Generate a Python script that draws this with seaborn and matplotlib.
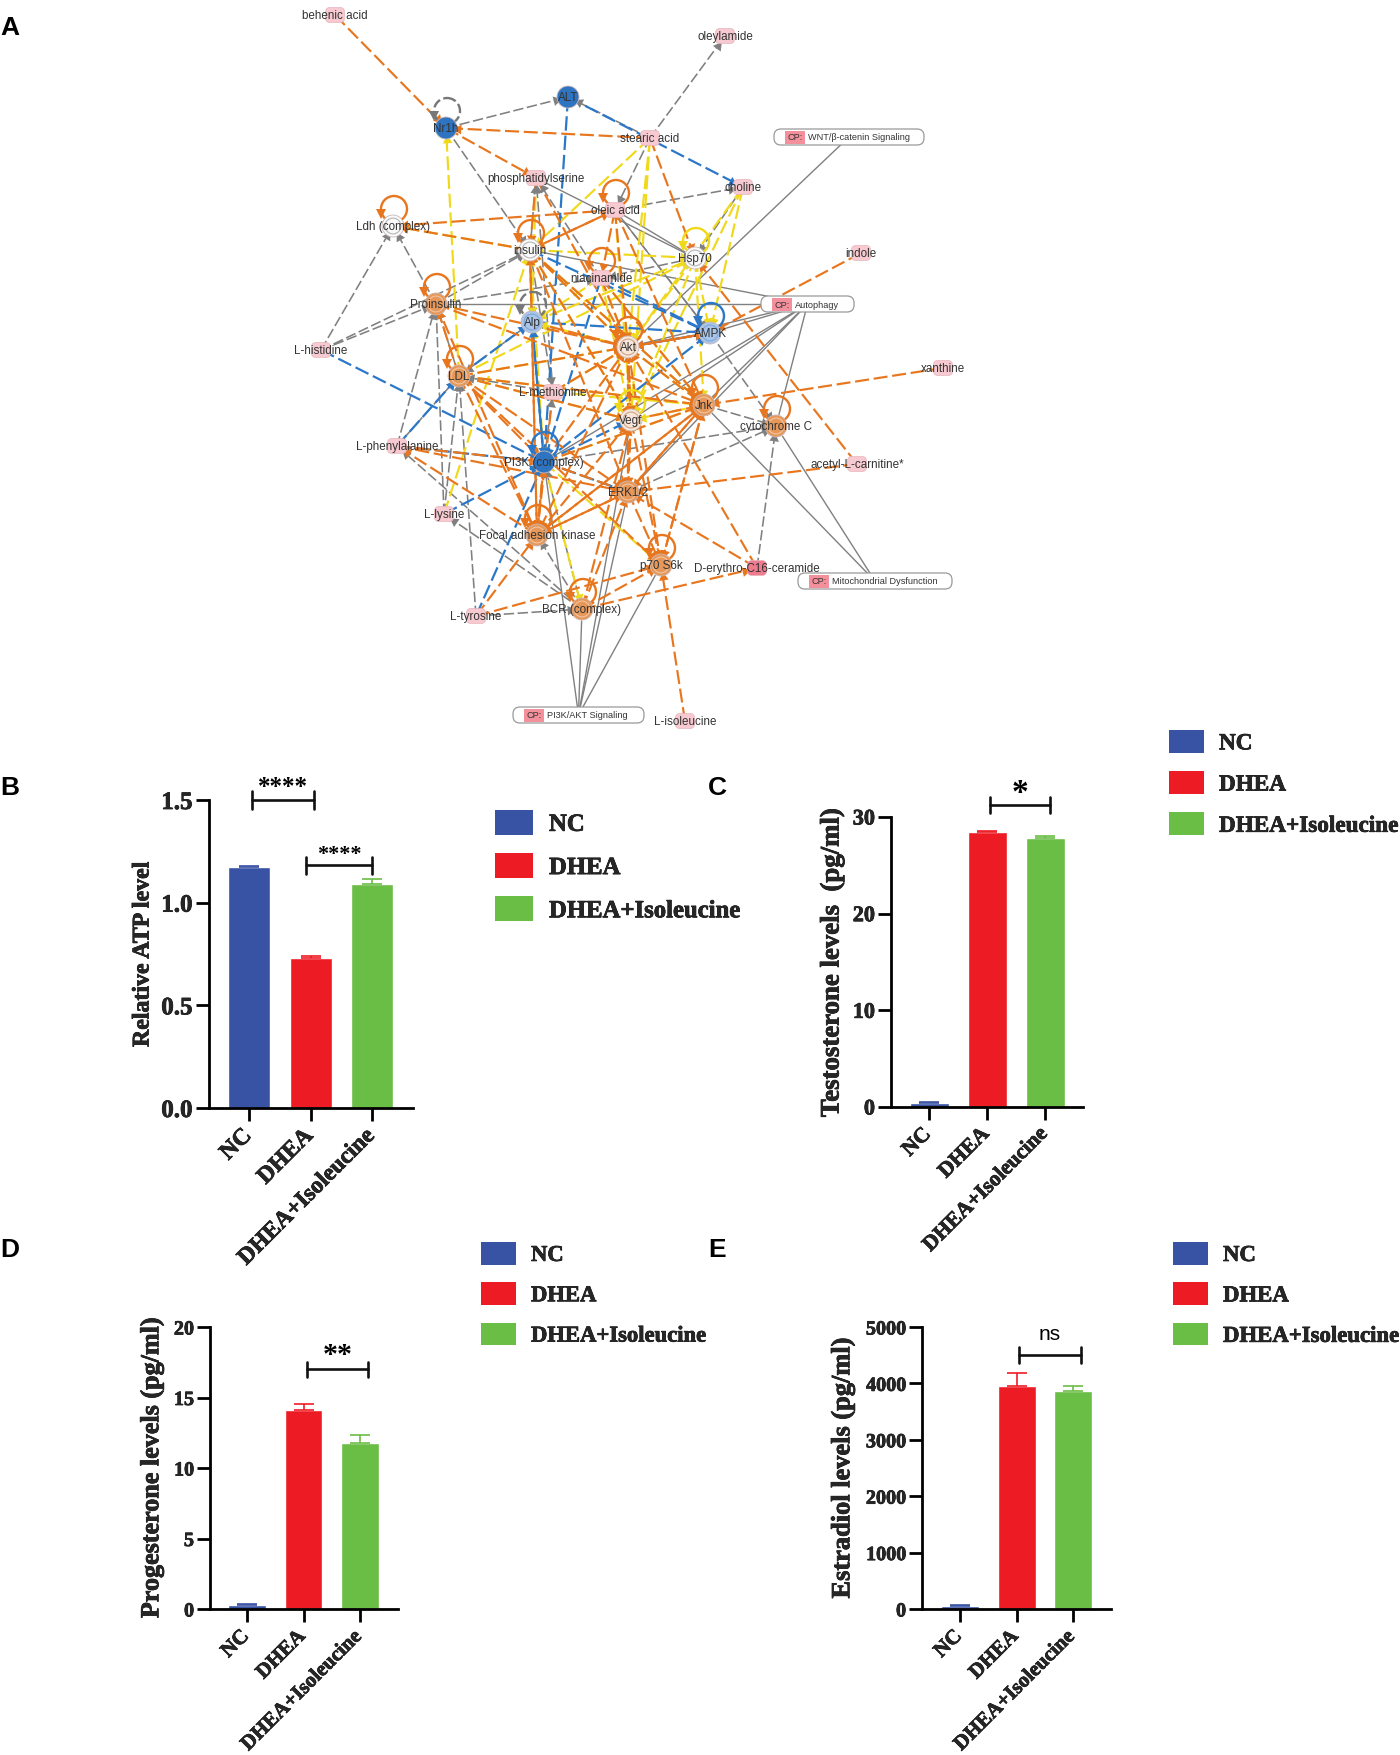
"""Isoleucine figure: pathway network (A) and hormone / ATP bar panels (B-E)."""
import math

import matplotlib
matplotlib.use('Agg')
import matplotlib.pyplot as plt
import matplotlib.patheffects as pe
from matplotlib.font_manager import FontProperties
from matplotlib.patches import Circle, FancyBboxPatch, Patch, Rectangle
from matplotlib.transforms import ScaledTranslation
import pandas as pd
import seaborn as sns

W, H = 1400, 1756

# ---- bar panels ----
groups = ['NC', 'DHEA', 'DHEA+Isoleucine']
colors = ['#3953a4', '#ed1c24', '#6abd45']

atp_values = [1.175, 0.73, 1.09]
atp_errors = [0.005, 0.01, 0.025]
atp_ticks = [0.0, 0.5, 1.0, 1.5]
atp_ticklabels = ['0.0', '0.5', '1.0', '1.5']

testosterone_values = [0.42, 28.4, 27.8]
testosterone_errors = [0.05, 0.12, 0.25]
testosterone_ticks = [0, 10, 20, 30]

progesterone_values = [0.3, 14.1, 11.75]
progesterone_errors = [0.04, 0.45, 0.6]
progesterone_ticks = [0, 5, 10, 15, 20]

estradiol_values = [60, 3960, 3860]
estradiol_errors = [10, 220, 90]
estradiol_ticks = [0, 1000, 2000, 3000, 4000, 5000]

# ---- network nodes ----
node_ids = ['beh', 'oley', 'nr1h', 'alt', 'stea', 'phos', 'chol', 'olei', 'ldh', 'ins', 'hsp',
            'ind', 'nia', 'pro', 'alp', 'ampk', 'akt', 'his', 'xan', 'ldl', 'met', 'jnk', 'vegf',
            'cyt', 'phe', 'pi3k', 'acet', 'erk', 'lys', 'fak', 'p70', 'cer', 'bcr', 'tyr', 'ile']
node_labels = ['behenic acid', 'oleylamide', 'Nr1h', 'ALT', 'stearic acid', 'phosphatidylserine',
               'choline', 'oleic acid', 'Ldh (complex)', 'insulin', 'Hsp70', 'indole', 'niacinamide',
               'Proinsulin', 'Alp', 'AMPK', 'Akt', 'L-histidine', 'xanthine', 'LDL', 'L-methionine',
               'Jnk', 'Vegf', 'cytochrome C', 'L-phenylalanine', 'PI3K (complex)', 'acetyl-L-carnitine*',
               'ERK1/2', 'L-lysine', 'Focal adhesion kinase', 'p70 S6k', 'D-erythro-C16-ceramide',
               'BCR (complex)', 'L-tyrosine', 'L-isoleucine']
node_x = [335, 725, 446, 568, 650, 536, 743, 615, 393, 530, 695, 861, 601, 436, 532, 710, 628, 321,
          943, 459, 553, 704, 631, 776, 397, 544, 857, 628, 444, 537, 661, 757, 582, 476, 685]
node_y = [16, 37, 129, 98, 139, 179, 188, 211, 227, 251, 259, 254, 279, 305, 323, 334, 348, 351,
          369, 377, 393, 406, 421, 427, 447, 463, 465, 493, 515, 536, 566, 569, 610, 617, 722]
node_kind = ['meta', 'meta', 'down', 'down', 'meta', 'meta', 'meta', 'meta', 'none', 'none', 'none',
             'meta', 'meta', 'up', 'weak', 'weak', 'pale', 'meta', 'meta', 'up', 'meta', 'up', 'pale',
             'up', 'meta', 'down', 'meta', 'up', 'meta', 'up', 'up', 'strong', 'up', 'meta', 'meta']

cp_labels = ['WNT/β-catenin Signaling', 'Autophagy', 'Mitochondrial Dysfunction', 'PI3K/AKT Signaling']
cp_ids = ['wnt', 'auto', 'mito', 'pak']
cp_left = [774, 761, 798, 513]
cp_right = [924, 854, 952, 644]
cp_y = [138, 305, 582, 716]

# ---- network edges ----
orange_edges = [
    ('stea', 'nr1h'), ('beh', 'nr1h'), ('nr1h', 'phos'), ('olei', 'ldh'), ('ins', 'ldh'), ('olei', 'ins'),
    ('ins', 'olei'), ('stea', 'hsp'), ('phos', 'ins'), ('phos', 'akt'), ('olei', 'nia'), ('olei', 'akt'),
    ('olei', 'jnk'), ('ins', 'akt'), ('ins', 'vegf'), ('ins', 'erk'), ('ins', 'jnk'), ('nia', 'akt'),
    ('nia', 'jnk'), ('pro', 'akt'), ('fak', 'ins'), ('ldl', 'akt'), ('ldl', 'jnk'), ('ldl', 'vegf'),
    ('ldl', 'erk'), ('phe', 'pi3k'), ('phe', 'erk'), ('fak', 'phe'), ('met', 'akt'), ('ind', 'ampk'),
    ('xan', 'jnk'), ('acet', 'erk'), ('acet', 'hsp'), ('cer', 'erk'), ('cer', 'akt'), ('bcr', 'erk'),
    ('bcr', 'vegf'), ('bcr', 'p70'), ('bcr', 'cer'), ('tyr', 'p70'), ('tyr', 'fak'), ('ile', 'p70'),
    ('erk', 'fak'), ('erk', 'p70'), ('erk', 'jnk'), ('erk', 'akt'), ('vegf', 'erk'), ('vegf', 'akt'),
    ('vegf', 'jnk'), ('akt', 'erk'), ('akt', 'jnk'), ('akt', 'vegf'), ('akt', 'p70'), ('akt', 'fak'),
    ('jnk', 'erk'), ('jnk', 'p70'), ('jnk', 'fak'), ('p70', 'jnk'), ('pi3k', 'erk'), ('pi3k', 'akt'),
    ('pi3k', 'fak'), ('pi3k', 'jnk'), ('ampk', 'akt'), ('akt', 'ampk'), ('alp', 'akt'), ('fak', 'erk'),
    ('fak', 'vegf'), ('fak', 'pi3k'), ('fak', 'jnk'), ('ins', 'fak'), ('pro', 'fak'), ('ldl', 'fak'),
    ('ldl', 'pro'), ('met', 'fak'), ('ldl', 'pi3k'), ('ldl', 'p70'), ('vegf', 'p70'), ('pro', 'jnk'),
]
yellow_edges = [
    ('ldl', 'nr1h'), ('stea', 'ins'), ('ins', 'ldh'), ('chol', 'akt'), ('chol', 'ampk'), ('stea', 'akt'),
    ('hsp', 'akt'), ('hsp', 'ampk'), ('hsp', 'jnk'), ('ins', 'akt'), ('ins', 'jnk'), ('ins', 'hsp'),
    ('nia', 'vegf'), ('phos', 'alp'), ('ldl', 'vegf'), ('lys', 'ins'), ('pi3k', 'p70'), ('pi3k', 'fak'),
    ('pi3k', 'bcr'), ('akt', 'alp'), ('nia', 'alp'), ('jnk', 'vegf'), ('vegf', 'akt'), ('met', 'akt'),
    ('met', 'jnk'), ('ldl', 'jnk'), ('ins', 'pi3k'), ('akt', 'jnk'), ('ldl', 'akt'), ('pi3k', 'jnk'),
    ('hsp', 'vegf'), ('chol', 'vegf'), ('stea', 'vegf'), ('ins', 'vegf'), ('nia', 'akt'), ('nia', 'jnk'),
    ('ldl', 'hsp'), ('alp', 'hsp'), ('alp', 'ins'), ('olei', 'vegf'),
]
blue_edges = [
    ('alt', 'chol'), ('alt', 'pi3k'), ('his', 'pi3k'), ('phe', 'pi3k'), ('lys', 'pi3k'), ('tyr', 'pi3k'),
    ('alp', 'pi3k'), ('pi3k', 'alp'), ('ldl', 'alp'), ('alp', 'ampk'), ('akt', 'ampk'), ('nia', 'ampk'),
    ('pi3k', 'ampk'), ('pi3k', 'erk'), ('pi3k', 'vegf'), ('phe', 'ldl'), ('ampk', 'akt'), ('ins', 'ampk'),
    ('nia', 'pi3k'),
]
gray_edges = [
    ('nr1h', 'alt'), ('nr1h', 'ins'), ('stea', 'alt'), ('stea', 'oley'), ('stea', 'olei'), ('olei', 'chol'),
    ('his', 'ldh'), ('his', 'pro'), ('his', 'ins'), ('pro', 'ldh'), ('pro', 'ins'), ('ins', 'phos'),
    ('nia', 'phos'), ('hsp', 'nia'), ('chol', 'hsp'), ('phe', 'pro'), ('lys', 'pro'), ('lys', 'ldl'),
    ('tyr', 'ldl'), ('phe', 'ldl'), ('tyr', 'bcr'), ('bcr', 'lys'), ('bcr', 'phe'), ('met', 'ldl'),
    ('met', 'phos'), ('pi3k', 'cyt'), ('erk', 'cyt'), ('cer', 'cyt'), ('jnk', 'cyt'), ('ampk', 'cyt'),
    ('ldl', 'pro'), ('ins', 'met'), ('pi3k', 'met'), ('bcr', 'fak'), ('bcr', 'pi3k'), ('alp', 'ldl'),
    ('pro', 'nia'), ('olei', 'ampk'), ('ins', 'alp'),
]
solid_edges = [
    ('wnt', 'akt'), ('auto', 'pro'), ('auto', 'ins'), ('auto', 'ampk'), ('auto', 'akt'), ('auto', 'jnk'),
    ('auto', 'erk'), ('auto', 'pi3k'), ('auto', 'vegf'), ('auto', 'cyt'), ('mito', 'jnk'), ('mito', 'cyt'),
    ('pak', 'pi3k'), ('pak', 'erk'), ('pak', 'vegf'), ('pak', 'bcr'), ('pak', 'p70'), ('phos', 'hsp'),
    ('olei', 'hsp'), ('olei', 'ampk'),
]
self_loops = {
    'nr1h': '#777777', 'ldh': '#e8761e', 'ins': '#e8761e', 'pro': '#e8761e', 'ldl': '#e8761e',
    'akt': '#e8761e', 'hsp': '#f0d81a', 'nia': '#e8761e', 'olei': '#e8761e', 'ampk': '#2b78c8',
    'jnk': '#e8761e', 'vegf': '#f0d81a', 'cyt': '#e8761e', 'pi3k': '#2b78c8', 'fak': '#e8761e',
    'p70': '#e8761e', 'bcr': '#e8761e', 'alp': '#777777',
}

kind_palette = {'down': '#2f74c0', 'weak': '#a9c6ea', 'none': '#fafafa', 'pale': '#f9e6d8', 'up': '#e6985a'}
ring_colors = {'none': '#b5b5b5', 'pale': '#c9a58a', 'up': '#f3c49e', 'weak': '#7fa6d8'}
meta_colors = {'meta': '#f7c9d0', 'strong': '#ee7c8e'}

sns.set_style('ticks')
plt.rcParams['font.family'] = ['Liberation Serif', 'DejaVu Serif']
plt.rcParams['axes.unicode_minus'] = False

heavy = [pe.withStroke(linewidth=0.5, foreground='black')]

fig = plt.figure(figsize=(W / 100, H / 100), dpi=100, facecolor='white')
canvas = fig.add_axes([0, 0, 1, 1])


def draw_edges(edges, color, lw, dashed=True, head=True):
    for src, dst in edges:
        x0, y0 = positions[src]
        x1, y1 = positions[dst]
        dist = math.hypot(x1 - x0, y1 - y0)
        stop = 12 if dst in node_ids else 0
        xe = x1 - (x1 - x0) * stop / dist
        ye = y1 - (y1 - y0) * stop / dist
        canvas.plot([x0, xe], [y0, ye], color=color, lw=lw, zorder=2,
                    ls=(0, (6.5, 2.2)) if dashed else '-')
        if head:
            angle = math.degrees(math.atan2(-(y1 - y0), x1 - x0)) - 90
            canvas.plot([xe], [ye], marker=(3, 0, angle), ms=8, color=color, mew=0, zorder=3)


positions = {n: (x, y) for n, x, y in zip(node_ids, node_x, node_y)}
for n, left, right, y in zip(cp_ids, cp_left, cp_right, cp_y):
    positions[n] = ((left + right) / 2, y)

draw_edges(gray_edges, '#808080', 1.15)
draw_edges(solid_edges, '#808080', 1.0, dashed=False, head=False)
draw_edges(yellow_edges, '#f0d81a', 1.55)
draw_edges(blue_edges, '#2b78c8', 1.6)
draw_edges(orange_edges, '#e8761e', 1.55)

for n, c in self_loops.items():
    x, y = positions[n]
    canvas.add_patch(Circle((x + 1, y - 17), 13, fill=False, ec=c, lw=1.7, zorder=3,
                            ls=(0, (4, 1.5)) if c == '#777777' else '-'))
    canvas.plot([x - 12], [y - 12], marker='v', ms=7, color=c, mew=0, zorder=3)

nodes = pd.DataFrame({'x': node_x, 'y': node_y, 'kind': node_kind})
circles = nodes[~nodes['kind'].isin(meta_colors)]
sns.scatterplot(data=circles, x='x', y='y', hue='kind', palette=kind_palette, s=250,
                edgecolor='#c9b8b8', linewidth=0.6, legend=False, ax=canvas, zorder=4)
for kind, ring in ring_colors.items():
    sns.scatterplot(data=nodes[nodes['kind'] == kind], x='x', y='y', s=130, facecolor='none',
                    edgecolor=ring, linewidth=0.8, legend=False, ax=canvas, zorder=5)
for x, y, kind in zip(node_x, node_y, node_kind):
    if kind in meta_colors:
        canvas.add_patch(FancyBboxPatch((x - 5, y - 3), 10, 6, boxstyle='round,pad=4.5',
                                        fc=meta_colors[kind], ec='#e8b4bc', lw=0.5, zorder=4))
canvas.set_xlim(0, W)
canvas.set_ylim(H, 0)
canvas.axis('off')

for label, x, y in zip(node_labels, node_x, node_y):
    canvas.text(x, y, label, ha='center', va='center', fontsize=8.4, color='#333333',
                family='Liberation Sans', zorder=6)

for label, left, right, y in zip(cp_labels, cp_left, cp_right, cp_y):
    canvas.add_patch(FancyBboxPatch((left + 7, y - 1), right - left - 14, 2, boxstyle='round,pad=7',
                                    fc='white', ec='#9a9a9a', lw=0.9, zorder=5))
    canvas.add_patch(Rectangle((left + 11, y - 6), 20, 13, fc='#f3909c', ec='none', zorder=6))
    canvas.text(left + 21, y, 'CP:', ha='center', va='center', fontsize=6.6, color='#333333',
                family='Liberation Sans', zorder=7)
    canvas.text(left + 34, y, label, ha='left', va='center', fontsize=6.6, color='#333333',
                family='Liberation Sans', zorder=7)

for letter, x, y in [('A', 0, 28), ('B', 0, 788), ('C', 708, 788), ('D', 0, 1250), ('E', 708, 1250)]:
    canvas.text(x, y, letter, ha='left', va='center', fontsize=19, fontweight='bold',
                family='Liberation Sans', color='black')


def bar_panel(box, values, errors, ticks, ticklabels, ylabel, label_xy, sizes, xticks_px, bar_px, legend_box):
    """box = (left, top, right, bottom) in image pixels; top is the last y tick."""
    left, top, right, bottom = box
    ax = fig.add_axes([left / W, 1 - bottom / H, (right - left) / W, (bottom - top) / H])
    ax.patch.set_alpha(0)
    sns.barplot(x=groups, y=values, hue=groups, palette=colors, order=groups, hue_order=groups,
                width=bar_px / (xticks_px[1] - xticks_px[0]), saturation=1, legend=False, ax=ax)
    step = xticks_px[1] - xticks_px[0]
    ax.set_xlim((left - xticks_px[0]) / step, (right - xticks_px[0]) / step)
    ax.set_ylim(ticks[0], ticks[-1])
    for i, (val, err, col) in enumerate(zip(values, errors, colors)):
        ax.errorbar(i, val, yerr=[[0], [err]], color=col, capsize=7, elinewidth=1.2, capthick=1.2)

    tick_size, x_size, y_size, legend_size = sizes
    sns.despine(ax=ax)
    for side in ('left', 'bottom'):
        ax.spines[side].set_linewidth(2)
        ax.spines[side].set_color('black')
    ax.set_yticks(ticks)
    ax.set_yticklabels(ticklabels, fontsize=tick_size, fontweight='bold', path_effects=heavy)
    ax.set_xticks(range(3))
    ax.set_xticklabels(groups, fontsize=x_size, fontweight='bold', rotation=45, ha='right',
                       rotation_mode='anchor', path_effects=heavy)
    ax.tick_params(axis='both', length=9.5, width=2, color='black', pad=2)
    ax.tick_params(axis='x', pad=3)
    shift = ScaledTranslation(-8 / 100, 0, fig.dpi_scale_trans)
    for tl in ax.get_xticklabels():
        tl.set_transform(tl.get_transform() + shift)
    ax.set_xlabel('')
    ax.set_ylabel(ylabel, fontsize=y_size, fontweight='bold', va='center', path_effects=heavy)
    ax.yaxis.set_label_coords((label_xy[0] - left) / (right - left), (bottom - label_xy[1]) / (bottom - top))

    lx, ly, lw, lh, pitch, text_x = legend_box
    fs_px = legend_size / 0.72
    hh = (lh / fs_px - 0.245) / 0.65
    handles = [Patch(facecolor=c, edgecolor='none', label=g) for c, g in zip(colors, groups)]
    leg = ax.legend(handles=handles, loc='upper left', bbox_to_anchor=(lx / W, 1 - ly / H),
                    bbox_transform=fig.transFigure, frameon=False, borderpad=0, borderaxespad=0,
                    prop=FontProperties(family='Liberation Serif', weight='bold', size=legend_size),
                    handlelength=lw / fs_px, handleheight=hh, handletextpad=(text_x - lx - lw) / fs_px,
                    labelspacing=(pitch + 3) / fs_px - hh)
    for t in leg.get_texts():
        t.set_path_effects(heavy)
    return ax


def bracket(x0, x1, y, half, text, text_y, size, family='Liberation Serif', weight='bold'):
    canvas.plot([x0, x1], [y, y], color='#111111', lw=1.9, zorder=8)
    for x in (x0, x1):
        canvas.plot([x, x], [y - half, y + half], color='#111111', lw=1.9, zorder=8)
    canvas.text((x0 + x1) / 2, text_y, text, ha='center', va='center', fontsize=size,
                family=family, fontweight=weight, color='black', zorder=8)


bar_panel((208.5, 801, 413, 1109), atp_values, atp_errors, atp_ticks, atp_ticklabels,
          'Relative ATP level', (143, 955), (18, 17, 17.2, 17.8), (249, 310.5, 372), 42,
          (495, 811, 38, 25, 43.5, 549))
bar_panel((891, 818, 1083, 1108), testosterone_values, testosterone_errors, testosterone_ticks,
          [str(t) for t in testosterone_ticks], 'Testosterone levels  (pg/ml)', (832, 964),
          (16, 15.5, 19.3, 16.7), (929, 987, 1044), 39, (1169, 731, 35, 23, 40.5, 1219))
bar_panel((210, 1328, 398, 1610), progesterone_values, progesterone_errors, progesterone_ticks,
          [str(t) for t in progesterone_ticks], 'Progesterone levels (pg/ml)', (152, 1469),
          (14.5, 15, 18.8, 16.3), (247, 303.5, 360), 37.5, (481, 1243, 35, 22.5, 39.5, 531))
bar_panel((922, 1328, 1111, 1610), estradiol_values, estradiol_errors, estradiol_ticks,
          [str(t) for t in estradiol_ticks], 'Estradiol levels (pg/ml)', (843, 1469),
          (14.5, 15, 19, 16.4), (960, 1016.5, 1073), 38, (1173, 1243, 35, 22.5, 39.5, 1223))

bracket(251.5, 314, 801, 9, '****', 788, 18)
bracket(306, 372, 866, 8.5, '****', 855, 16)
bracket(990, 1050, 805.5, 8, '*', 794, 24)
bracket(307, 368, 1370, 7.5, '**', 1356, 21.5)
bracket(1019, 1081, 1356, 8, 'ns', 1334.5, 15, family='Liberation Sans', weight='normal')

fig.savefig('out.png', dpi=100, facecolor='white')
